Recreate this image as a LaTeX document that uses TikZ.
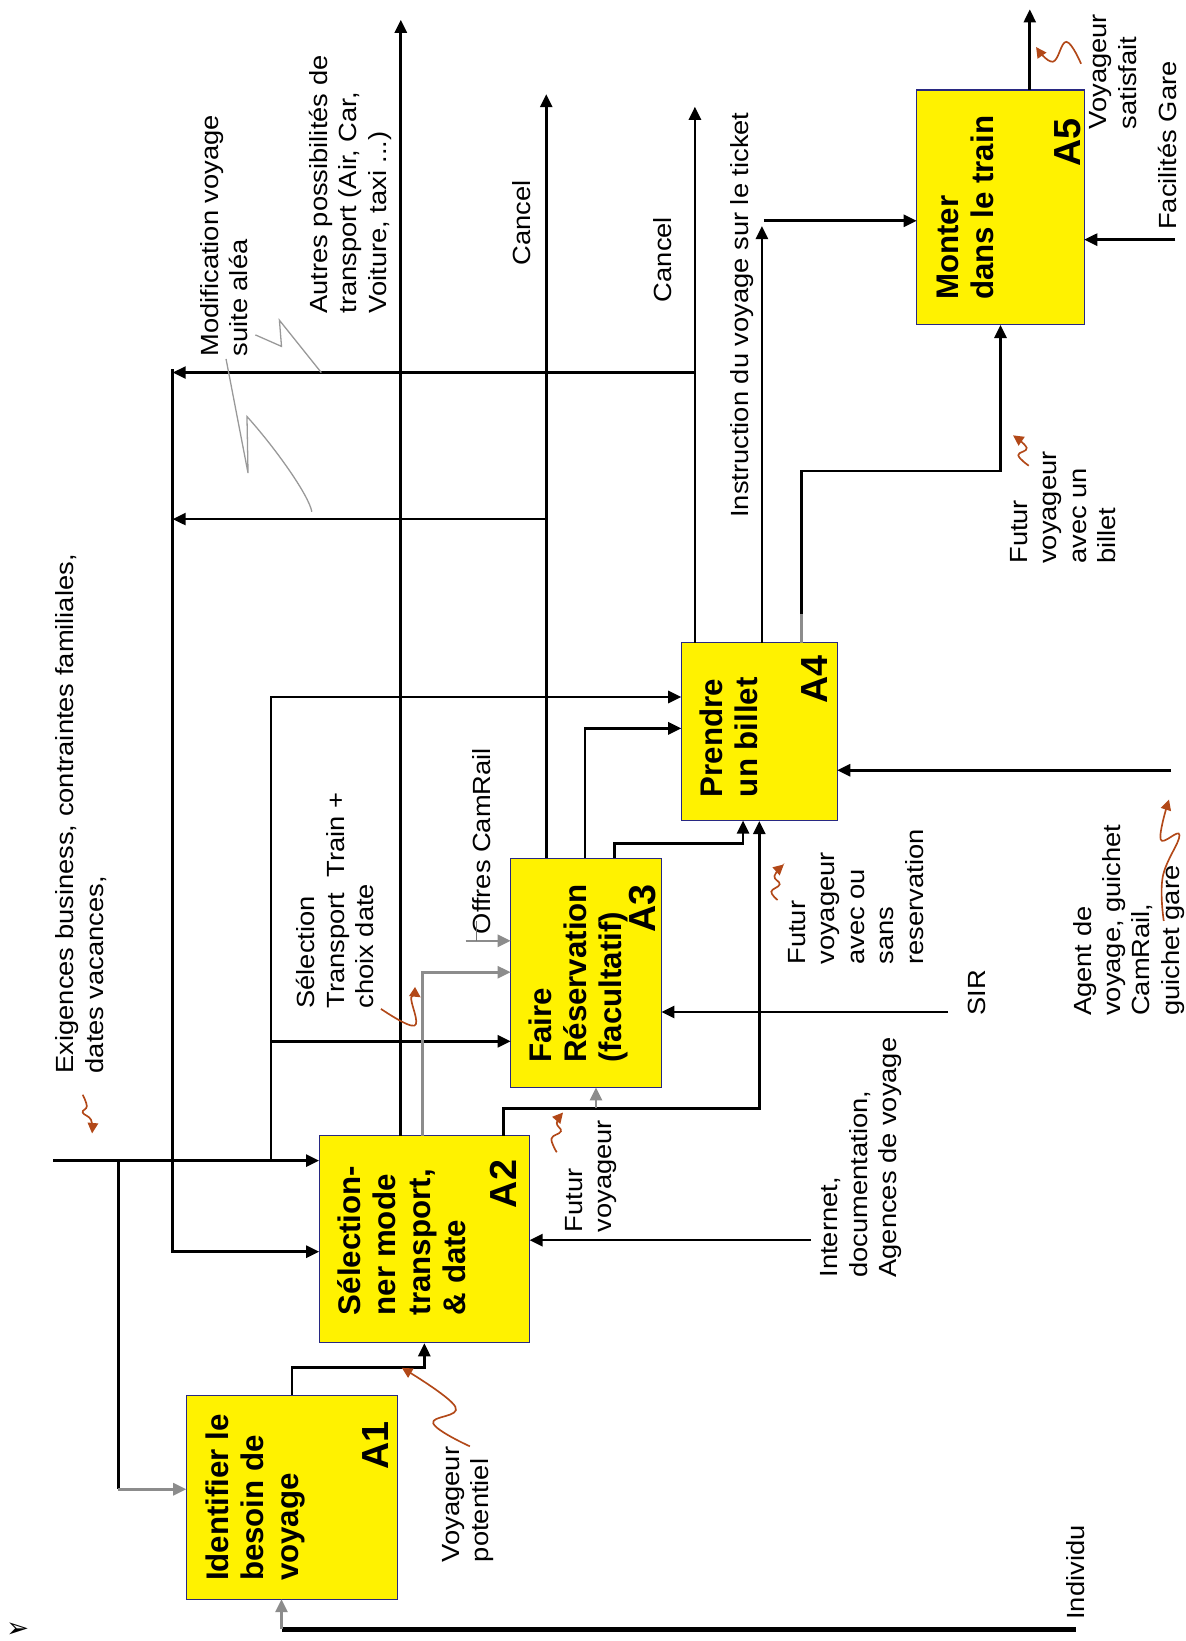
\documentclass[tikz,border=0pt]{standalone}
\usepackage{fontspec}
\setmainfont{Liberation Sans}
\newfontfamily\puce{DejaVu Sans}
\usetikzlibrary{arrows.meta}
\definecolor{rouille}{RGB}{178,72,24}
\definecolor{bordbleu}{RGB}{40,40,130}
\tikzstyle{fonction} = [rectangle, draw=bordbleu, fill=yellow, line width=0.6pt, inner sep=0pt]
\tikzstyle{titre} = [anchor=north west, align=left, inner sep=0pt,
    font=\fontsize{17}{19}\selectfont\bfseries]
\tikzstyle{numero} = [anchor=base east, inner sep=0pt,
    font=\fontsize{20.5}{22}\selectfont\bfseries]
\tikzstyle{etiquette} = [anchor=north west, align=left, inner sep=0pt, xscale=1.1,
    font=\fontsize{13.5}{16}\selectfont]
\tikzstyle{line} = [draw, line width=1.45pt, -{Triangle[length=2.5mm,width=2.3mm]}]
\tikzstyle{trait} = [draw, line width=1.45pt]
\tikzstyle{grisline} = [draw=black!45, line width=1.45pt, -{Triangle[length=2.5mm,width=2.3mm]}]
\tikzstyle{eclair} = [draw=rouille, line width=0.9pt, -{Triangle[length=2mm,width=2mm]}]
\tikzstyle{eclairgris} = [draw=black!40, line width=0.7pt]

\begin{document}
\begin{tikzpicture}[x=0.02cm, y=0.02cm]
  \path [fill=white, use as bounding box] (-1133,0) rectangle (0,1568);
  \node [inner sep=0pt, anchor=south, font=\puce\fontsize{15}{15}\selectfont] (puce) at (-1116,3) {➢};

  \begin{scope}[rotate=90, transform shape]
  % Place nodes
  \node [fonction, minimum width=3.9cm, minimum height=4.04cm] (besoin) at (137.5,854) {};
  \node [fonction, minimum width=3.96cm, minimum height=4.02cm] (mode) at (384,727.5) {};
  \node [fonction, minimum width=4.38cm, minimum height=2.88cm] (resa) at (638.5,573) {};
  \node [fonction, minimum width=3.4cm, minimum height=2.98cm] (billet) at (869,407.5) {};
  \node [fonction, minimum width=4.48cm, minimum height=3.2cm] (train) at (1370,177) {};

  \node [titre] (besointxt) at (57,937) {Identifier le\\besoin de\\voyage};
  \node [titre] (modetxt) at (311,811) {Sélection-\\ner mode\\transport,\\\& date};
  \node [titre] (resatxt) at (552,628) {Faire\\Réservation\\(facultatif)};
  \node [titre] (billettxt) at (806,465) {Prendre\\un billet};
  \node [titre] (traintxt) at (1281,238) {Monter\\dans le train};

  \node [numero] (besoinnum) at (210,762) {A1};
  \node [numero] (modenum) at (460,639.5) {A2};
  \node [numero] (resanum) at (723,507) {A3};
  \node [numero] (billetnum) at (942,342) {A4};
  \node [numero] (trainnum) at (1455,101) {A5};

  % labels
  \node [etiquette] (exigences) at (542,1080) {Exigences business,  contraintes familiales,\\dates vacances,};
  \node [etiquette] (selectxt) at (604,850) {Sélection\\Transport~ Train +\\choix date};
  \node [etiquette] (offrestxt) at (675,682) {Offres CamRail};
  \node [etiquette] (autrestxt) at (1268,838) {Autres possibilités de\\transport (Air, Car,\\Voiture, taxi ...)};
  \node [etiquette] (modiftxt) at (1227,942) {Modification voyage\\suite aléa};
  \node [etiquette] (cancelresa) at (1314,644) {Cancel};
  \node [etiquette] (cancelbillet) at (1279,509) {Cancel};
  \node [etiquette] (instrtxt) at (1073,435) {Instruction du voyage sur le ticket};
  \node [etiquette] (avecbillet) at (1029,168) {Futur\\voyageur\\avec un\\billet};
  \node [etiquette] (satisftxt) at (1444,92) {Voyageur\\satisfait};
  \node [etiquette] (garetxt) at (1348,27) {Facilités Gare};
  \node [etiquette] (agenttxt) at (597,108) {Agent de\\voyage, guichet\\CamRail,\\guichet gare};
  \node [etiquette] (sirtxt) at (597,208) {SIR};
  \node [etiquette] (sanstxt) at (646,380) {Futur\\voyageur\\avec ou\\sans\\reservation};
  \node [etiquette] (futurtxt) at (390,593) {Futur\\voyageur};
  \node [etiquette] (internettxt) at (347,349) {Internet,\\documentation,\\Agences de voyage};
  \node [etiquette] (potentieltxt) at (75,711) {Voyageur\\potentiel};
  \node [etiquette] (individutxt) at (20,114) {Individu};

  % points of the arrows
  \coordinate (indiv) at (11,105);
  \coordinate (indivk) at (11,864);
  \coordinate (besoinI) at (40,864);
  \coordinate (exig) at (459,1082);
  \coordinate (exigj1) at (459,1020);
  \coordinate (exigj2) at (459,874);
  \coordinate (exigj3) at (573,874);
  \coordinate (exigk1) at (145,1020);
  \coordinate (exigk2) at (902,874);
  \coordinate (besoinC) at (145,955);
  \coordinate (modeC2) at (459,828);
  \coordinate (resaC1) at (573,645);
  \coordinate (billetC2) at (902,482);
  \coordinate (fbtop) at (1215,968);
  \coordinate (fbk) at (372,968);
  \coordinate (modeC1) at (372,828);
  \coordinate (fbj1) at (1212,469);
  \coordinate (fbe1) at (1212,968);
  \coordinate (fbj2) at (1072,611);
  \coordinate (fbe2) at (1072,968);
  \coordinate (k1) at (261.5,854);
  \coordinate (k2) at (261.5,727.5);
  \coordinate (modeO1) at (483,750);
  \coordinate (autres) at (1549,750);
  \coordinate (modeO2) at (483,729);
  \coordinate (gk) at (639,729);
  \coordinate (resaC2) at (639,645);
  \coordinate (modeO3) at (483,652);
  \coordinate (fk1) at (509,652);
  \coordinate (fk2) at (509,407.5);
  \coordinate (fj) at (509,563.5);
  \coordinate (resaI) at (529,563.5);
  \coordinate (offres) at (669,688);
  \coordinate (offtick) at (669,678);
  \coordinate (offtick2) at (688,678);
  \coordinate (resaC3) at (669,645);
  \coordinate (resaO1) at (748,611);
  \coordinate (cancel1) at (1478,611);
  \coordinate (resaO2) at (748,574);
  \coordinate (rk1) at (872,574);
  \coordinate (billetC1) at (872,482);
  \coordinate (resaO3) at (748,546);
  \coordinate (rk2) at (762,546);
  \coordinate (rk3) at (762,423);
  \coordinate (billetI) at (784,423);
  \coordinate (sir) at (601,227);
  \coordinate (resaM) at (601,501);
  \coordinate (internet) at (383,358);
  \coordinate (modeM) at (383,627);
  \coordinate (agent) at (832,14);
  \coordinate (billetM) at (832,333);
  \coordinate (billetO1) at (954,469);
  \coordinate (cancel2) at (1466,469);
  \coordinate (billetO2) at (954,405);
  \coordinate (instr) at (1352,405);
  \coordinate (instr2) at (1357,403);
  \coordinate (trainC) at (1357,257);
  \coordinate (billetO3) at (954,367);
  \coordinate (bg) at (981,367);
  \coordinate (bk1) at (1118,367);
  \coordinate (bk2) at (1118,177);
  \coordinate (trainO) at (1482,149);
  \coordinate (satisfait) at (1559,149);
  \coordinate (gare) at (1339,10);
  \coordinate (trainM) at (1339,97);

  % arrows
  \path [trait, line width=2.7pt] (indiv) -- (indivk);
  \path [grisline] (indivk) -- (besoinI);
  \path [line] (exig) -- (modeC2);
  \path [trait] (exigj1) -- (exigk1);
  \path [grisline] (exigk1) -- (besoinC);
  \path [line] (exigj2) -- (exigk2) -- (billetC2);
  \path [line] (exigj3) -- (resaC1);
  \path [line] (fbtop) -- (fbk) -- (modeC1);
  \path [line] (fbj1) -- (fbe1);
  \path [line] (fbj2) -- (fbe2);
  \path [line] (besoin.east) -- (k1) -- (k2) -- (mode.west);
  \path [line] (modeO1) -- (autres);
  \path [grisline] (modeO2) -- (gk) -- (resaC2);
  \path [line] (modeO3) -- (fk1) -- (fk2) -- (billet.west);
  \path [grisline] (fj) -- (resaI);
  \path [grisline] (offres) -- (resaC3);
  \path [draw=black!55, line width=0.6pt] (offtick) -- (offtick2);
  \path [line] (resaO1) -- (cancel1);
  \path [line] (resaO2) -- (rk1) -- (billetC1);
  \path [line] (resaO3) -- (rk2) -- (rk3) -- (billetI);
  \path [line] (sir) -- (resaM);
  \path [line] (internet) -- (modeM);
  \path [line] (agent) -- (billetM);
  \path [line] (billetO1) -- (cancel2);
  \path [line] (billetO2) -- (instr);
  \path [line] (instr2) -- (trainC);
  \path [line] (billetO3) -- (bk1) -- (bk2) -- (train.west);
  \path [draw=black!45, line width=1.45pt] (billetO3) -- (bg);
  \path [line] (trainO) -- (satisfait);
  \path [line] (gare) -- (trainM);

  % squiggles
  \draw [eclair] plot [smooth, tension=0.7] coordinates {(522,1054) (511,1050) (505,1054) (498,1046) (485,1045)};
  \draw [eclair] plot [smooth, tension=0.7] coordinates {(186,684) (208,719) (224,698) (261,749)};
  \draw [eclair] plot [smooth, tension=0.7] coordinates {(467,601) (480,606) (487,597) (495,601) (505,595)};
  \draw [eclair] plot [smooth, tension=0.7] coordinates {(604,769) (588,737) (615,740) (615,731)};
  \draw [eclair] plot [smooth, tension=0.7] coordinates {(708,390) (716,396) (723,388) (731,393) (742,384)};
  \draw [eclair] plot [smooth, tension=0.7] coordinates {(688,21) (730,22) (770,6) (766,24) (804,16)};
  \draw [eclair] plot [smooth, tension=0.7] coordinates {(1123,150) (1133,160) (1140,152) (1152,165)};
  \draw [eclair] plot [smooth, tension=0.7] coordinates {(1507,100) (1528,114) (1509,127) (1523,143)};
  \draw [eclairgris] (1225,917) -- (1116,896) -- (1170,897) .. controls (1140,870) and (1095,838) .. (1079,835);
  \draw [eclairgris] (1248,889) -- (1237,864) -- (1262,866) -- (1212,826);
  \end{scope}
\end{tikzpicture}
\end{document}
